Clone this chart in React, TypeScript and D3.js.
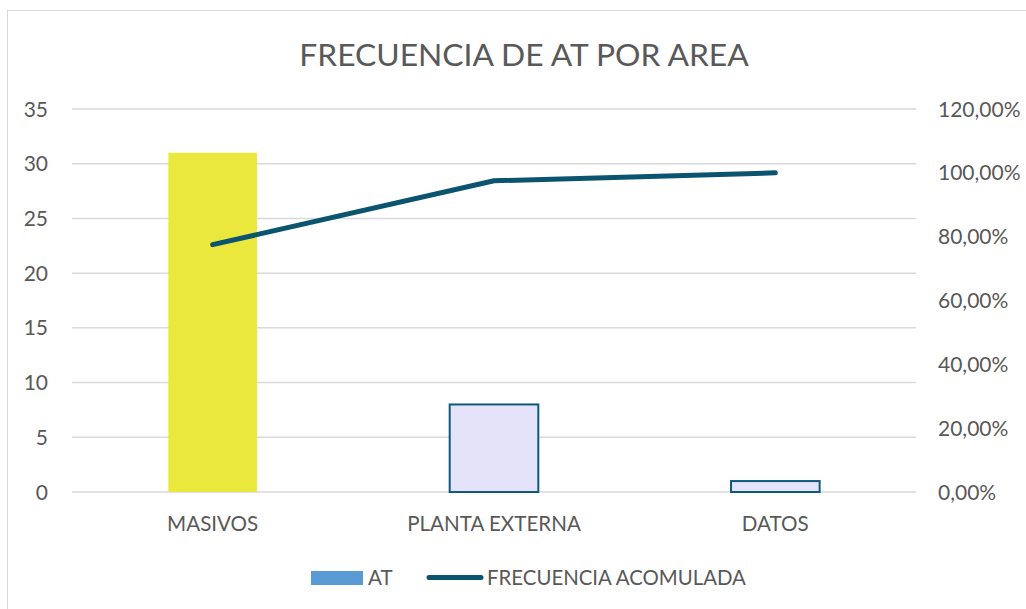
import { useMemo } from "react"
import * as d3 from "d3"

const categories = ["MASIVOS", "PLANTA EXTERNA", "DATOS"]
const atValues = [31, 8, 1]
const cumulative = [0.775, 0.975, 1.0]
const leftTicks = [0, 5, 10, 15, 20, 25, 30, 35]
const rightTicks = [0, 0.2, 0.4, 0.6, 0.8, 1.0, 1.2]
const barFills = ["#ebe83d", "#e4e3fa", "#e4e3fa"]
const barStrokes = ["none", "#0f5a78", "#0f5a78"]

const W = 1026
const H = 609
const FONT = "Lato, 'Open Sans', sans-serif"

export default function App() {
  const left = 72
  const right = 916
  const top = 109
  const bottom = 492

  const x = useMemo(
    () => d3.scaleBand<string>().domain(categories).range([left, right]).paddingInner(0.685).paddingOuter(0.3425),
    [],
  )
  const yL = d3.scaleLinear().domain([0, 35]).range([bottom, top])
  const yR = d3.scaleLinear().domain([0, 1.2]).range([bottom, top])
  const fmtPct = (v: number) => (v * 100).toFixed(2).replace(".", ",") + "%"

  const line = d3
    .line<number>()
    .x((_, i) => (x(categories[i]) ?? 0) + x.bandwidth() / 2)
    .y((d) => yR(d))

  return (
    <svg
      width={W}
      height={H}
      style={{ position: "absolute", left: 0, top: 0, background: "#fff" }}
      fontFamily={FONT}
    >
      <rect x={7.5} y={10.5} width={1030} height={620} fill="#fff" stroke="#d9d9d9" />

      <text x={524} y={66} textAnchor="middle" fontSize={31.8} fill="#595959">
        FRECUENCIA DE AT POR AREA
      </text>

      {leftTicks.map((t) => (
        <g key={"g" + t}>
          <line x1={left} x2={right} y1={yL(t)} y2={yL(t)} stroke="#d9d9d9" strokeWidth={1.5} />
          <text x={48} y={yL(t) + 7.5} textAnchor="end" fontSize={21} fill="#595959">
            {t}
          </text>
        </g>
      ))}
      {rightTicks.map((t) => (
        <text key={"r" + t} x={938} y={yR(t) + 7.5} textAnchor="start" fontSize={21} fill="#595959">
          {fmtPct(t)}
        </text>
      ))}

      {atValues.map((v, i) => (
        <rect
          key={categories[i]}
          x={x(categories[i])}
          y={yL(v)}
          width={x.bandwidth()}
          height={yL(0) - yL(v)}
          fill={barFills[i]}
          stroke={barStrokes[i]}
          strokeWidth={2}
        />
      ))}

      <path
        d={line(cumulative) ?? ""}
        fill="none"
        stroke="#0b5470"
        strokeWidth={5}
        strokeLinecap="round"
        strokeLinejoin="round"
      />

      {categories.map((c) => (
        <text
          key={c}
          x={(x(c) ?? 0) + x.bandwidth() / 2}
          y={531}
          textAnchor="middle"
          fontSize={20.6}
          fill="#595959"
        >
          {c}
        </text>
      ))}

      <rect x={311} y={571} width={52} height={14} fill="#5b9bd5" />
      <text x={368} y={585} fontSize={20.6} fill="#595959">
        AT
      </text>
      <line x1={429} x2={481} y1={577.5} y2={577.5} stroke="#0b5470" strokeWidth={5} strokeLinecap="round" />
      <text x={487} y={585} fontSize={20.4} fill="#595959">
        FRECUENCIA ACOMULADA
      </text>
    </svg>
  )
}
